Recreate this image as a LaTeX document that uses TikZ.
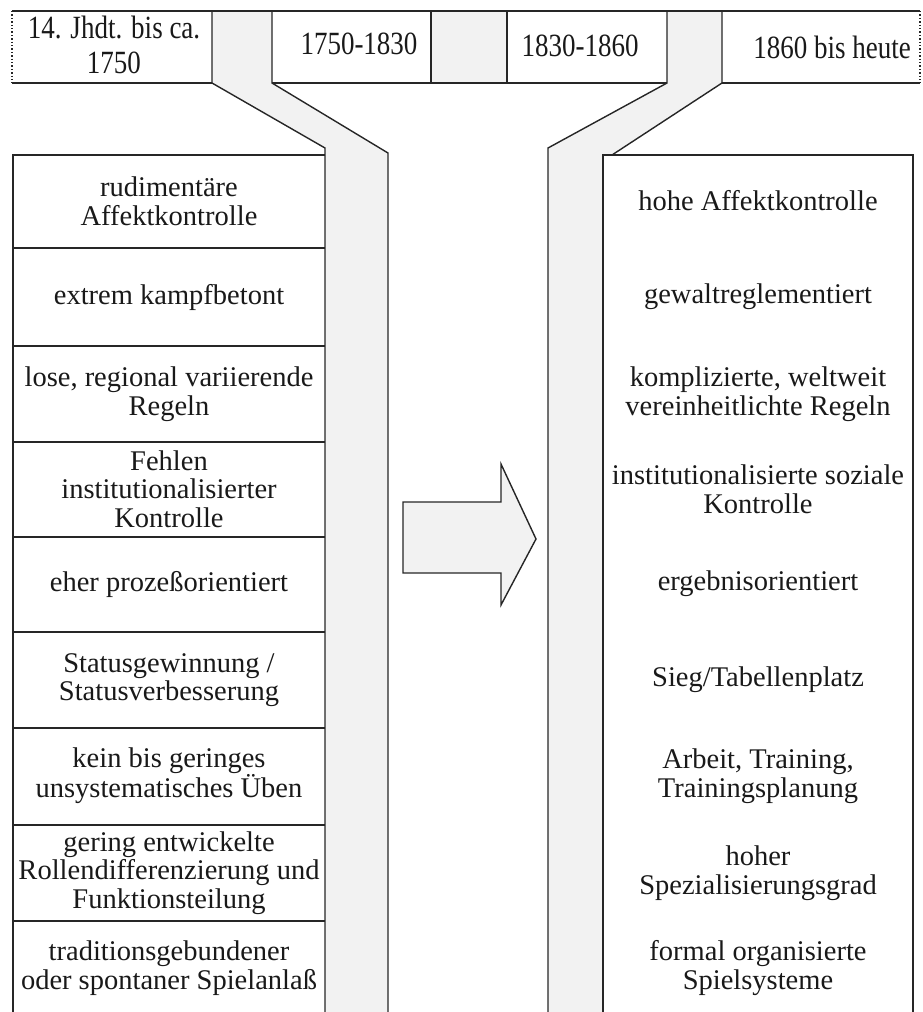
\documentclass[tikz,border=0pt]{standalone}
\usepackage{fontspec}
\setmainfont{Liberation Serif}
\usepackage{graphicx}
\tikzset{
  ln/.style={draw=black!85, line width=1.4pt},
  bandfill/.style={fill=black!5},
  body/.style={font=\fontsize{28.5}{28.5}\selectfont, align=center, inner sep=0pt, text=black!90},
  head/.style={font=\fontsize{27}{35}\selectfont, align=center, inner sep=0pt, text=black!90},
}
\newcommand{\ystretch}[1]{\scalebox{1}[1.2]{#1}}
\begin{document}
\begin{tikzpicture}[x=1pt,y=-1pt]
\useasboundingbox (0,0) rectangle (923,1012);
% bands (fills)
\fill[bandfill] (212,11) -- (272,11) -- (272,83) -- (388,153) -- (388,1012) -- (325,1012) -- (325,148) -- (212,83) -- cycle;
\fill[bandfill] (667,11) -- (722,11) -- (722,83) -- (612,155) -- (603,155) -- (603,1012) -- (548,1012) -- (548,148) -- (667,83) -- cycle;
\fill[bandfill] (431,11) rectangle (507,83);
% top frame
\draw[ln] (12,11) -- (920,11);
\draw[ln] (12,83) -- (212,83) (272,83) -- (667,83) (722,83) -- (920,83);
\draw[ln] (431,11) -- (431,83) (507,11) -- (507,83);
\draw[ln, dotted, line width=1.2pt] (12,11) -- (12,83) (920,11) -- (920,83);
% band edges
\draw[ln] (212,11) -- (212,83) -- (325,148) -- (325,1012);
\draw[ln] (272,11) -- (272,83) -- (388,153) -- (388,1012);
\draw[ln] (667,11) -- (667,83) -- (548,148) -- (548,1012);
\draw[ln] (722,11) -- (722,83) -- (612,155);
% left box
\draw[ln] (325,155) -- (13,155) -- (13,1012);
\foreach \yy in {248,346,442,537,632,728,825,921} \draw[ln] (13,\yy) -- (325,\yy);
% right box
\draw[ln] (603,1012) -- (603,155) -- (913,155) -- (913,1012);
% arrow
\filldraw[ln, bandfill] (403,502) -- (501,502) -- (501,464) -- (536,539) -- (501,605) -- (501,573) -- (403,573) -- cycle;
% header texts
\node[head] (h1) at (114,45) {\ystretch{14. Jhdt. bis ca.}\\\ystretch{1750}};
\node[head] (h2) at (359,44) {\ystretch{1750-1830}};
\node[head] (h3) at (580,46) {\ystretch{1830-1860}};
\node[head] (h4) at (832,47) {\ystretch{1860 bis heute}};
% left column
\node[body] (l1) at (169,201) {rudimentäre\\Affektkontrolle};
\node[body] (l2) at (169,297) {extrem kampfbetont};
\node[body] (l3) at (169,394) {lose, regional variierende\\Regeln};
\node[body] (l4) at (169,489) {Fehlen\\institutionalisierter\\Kontrolle};
\node[body] (l5) at (169,584) {eher prozeßorientiert};
\node[body] (l6) at (169,680) {Statusgewinnung /\\Statusverbesserung};
\node[body] (l7) at (169,776) {kein bis geringes\\unsystematisches Üben};
\node[body] (l8) at (169,873) {gering entwickelte\\Rollendifferenzierung und\\Funktionsteilung};
\node[body] (l9) at (169,968) {traditionsgebundener\\oder spontaner Spielanlaß};
% right column
\node[body] (r1) at (758,201) {hohe Affektkontrolle};
\node[body] (r2) at (758,297) {gewaltreglementiert};
\node[body] (r3) at (758,394) {komplizierte, weltweit\\vereinheitlichte Regeln};
\node[body] (r4) at (758,489) {institutionalisierte soziale\\Kontrolle};
\node[body] (r5) at (758,584) {ergebnisorientiert};
\node[body] (r6) at (758,680) {Sieg/Tabellenplatz};
\node[body] (r7) at (758,776) {Arbeit, Training,\\Trainingsplanung};
\node[body] (r8) at (758,873) {hoher\\Spezialisierungsgrad};
\node[body] (r9) at (758,968) {formal organisierte\\Spielsysteme};
\end{tikzpicture}
\end{document}
